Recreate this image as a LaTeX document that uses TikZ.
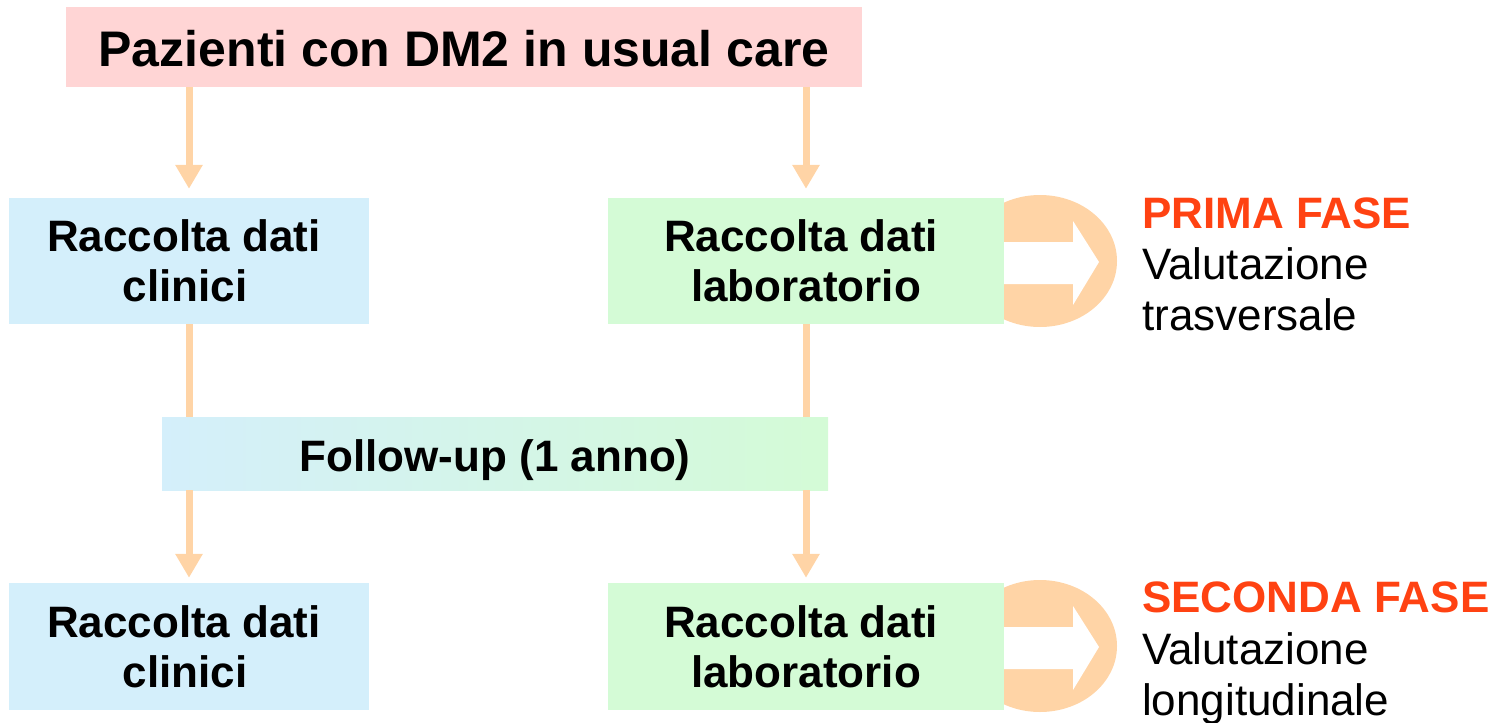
\documentclass[tikz,border=0pt]{standalone}
\usepackage{fontspec}
\setmainfont{Liberation Sans}
\usetikzlibrary{arrows.meta,backgrounds}
\definecolor{pinkbox}{HTML}{FFD5D5}
\definecolor{bluebox}{HTML}{D4EFFB}
\definecolor{greenbox}{HTML}{D4FBD6}
\definecolor{peach}{HTML}{FFD4A6}
\definecolor{faseorange}{HTML}{FF4212}
\tikzset{
  box/.style={draw=none, inner sep=0pt, align=center, font=\fontsize{44}{50}\selectfont\bfseries},
  flow/.style={draw=peach, line width=7pt},
  flowarrow/.style={flow, -{Triangle[width=26pt,length=24pt]}},
  sidetext/.style={anchor=base west, inner sep=0pt, font=\fontsize{44}{50}\selectfont},
}
\begin{document}
\begin{tikzpicture}[x=1pt,y=-1pt]
\useasboundingbox (0,0) rectangle (1500,723);
\node[box, fill=pinkbox, minimum width=796pt, minimum height=80pt, font=\fontsize{50}{56}\selectfont\bfseries] (top) at (464,47) {\raisebox{-2pt}[\height][\depth]{Pazienti con DM2 in usual care}};
\node[box, fill=bluebox, minimum width=360pt, minimum height=126pt] (c1) at (189,261) {Raccolta dati\hspace*{10pt}\\clinici\hspace*{8pt}};
\node[box, fill=greenbox, minimum width=396pt, minimum height=126pt] (l1) at (806,261) {Raccolta dati\hspace*{10pt}\\laboratorio};
\node[box, left color=bluebox, right color=greenbox, minimum width=666pt, minimum height=73pt] (fu) at (495,453.5) {\raisebox{-7pt}[\height][\depth]{Follow-up (1 anno)}};
\node[box, fill=bluebox, minimum width=360pt, minimum height=127pt] (c2) at (189,646.5) {Raccolta dati\hspace*{10pt}\\clinici\hspace*{8pt}};
\node[box, fill=greenbox, minimum width=396pt, minimum height=127pt] (l2) at (806,646.5) {Raccolta dati\hspace*{10pt}\\laboratorio};
% circular arrows
\begin{scope}[on background layer]
  \foreach \n/\cy in {1/261, 2/646}{
    \fill[peach] (1040,\cy) ellipse [x radius=77pt, y radius=66pt];
    \fill[white] (1000,\cy-19) -- (1073,\cy-19) -- (1073,\cy-40) -- (1099,\cy+1) -- (1073,\cy+44) -- (1073,\cy+23) -- (1000,\cy+23) -- cycle;
  }
\end{scope}
% connectors
\draw[flowarrow, shorten >=9pt] (top.south -| c1.north) -- (c1.north);
\draw[flowarrow, shorten >=9pt] (top.south -| l1.north) -- (l1.north);
\draw[flow] (c1.south) -- (fu.north -| c1.south);
\draw[flow] (l1.south) -- (fu.north -| l1.south);
\draw[flowarrow, shorten >=5pt] (fu.south -| c2.north) -- (c2.north);
\draw[flowarrow, shorten >=5pt] (fu.south -| l2.north) -- (l2.north);
% side texts
\node[sidetext, text=faseorange, font=\fontsize{44}{50}\selectfont\bfseries] (f1) at (1142,228) {PRIMA FASE};
\node[sidetext] (v1) at (1142,279) {Valutazione};
\node[sidetext] (t1) at (1142,330) {trasversale};
\node[sidetext, text=faseorange, font=\fontsize{44}{50}\selectfont\bfseries] (f2) at (1142,612) {SECONDA FASE};
\node[sidetext] (v2) at (1142,664) {Valutazione};
\node[sidetext] (t2) at (1142,715) {longitudinale};
\end{tikzpicture}
\end{document}
